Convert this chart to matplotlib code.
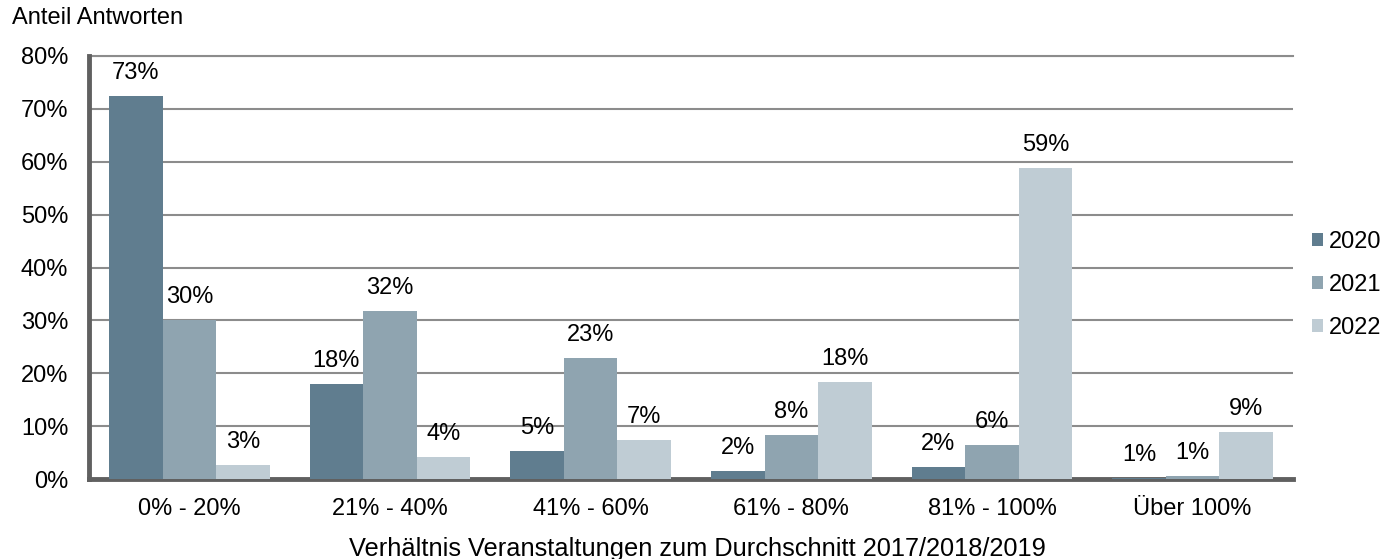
import matplotlib
matplotlib.use("Agg")
import matplotlib.pyplot as plt
import numpy as np

plt.rcParams['font.family'] = ['Liberation Sans', 'DejaVu Sans']

categories = ["0% - 20%", "21% - 40%", "41% - 60%", "61% - 80%", "81% - 100%", "Über 100%"]
years = ["2020", "2021", "2022"]
v2020 = [72.5, 18.0, 5.3, 1.6, 2.3, 0.1]
v2021 = [30.0, 31.7, 22.9, 8.3, 6.4, 0.6]
v2022 = [2.7, 4.2, 7.4, 18.4, 58.8, 8.9]
labels2020 = ["73%", "18%", "5%", "2%", "2%", "1%"]
labels2021 = ["30%", "32%", "23%", "8%", "6%", "1%"]
labels2022 = ["3%", "4%", "7%", "18%", "59%", "9%"]
yticks = [0, 10, 20, 30, 40, 50, 60, 70, 80]

colors = ["#607d8f", "#8fa4b0", "#bfccd4"]
series = [v2020, v2021, v2022]
labelsets = [labels2020, labels2021, labels2022]

FS = 17
fig = plt.figure(figsize=(13.85, 5.59), dpi=100)
ax = fig.add_axes([89/1385, 1 - 479/559, (1293-89)/1385, (479-56)/559])

x = np.arange(len(categories))
w = 0.267
for i, (vals, c, labs) in enumerate(zip(series, colors, labelsets)):
    pos = x + (i - 1) * w
    ax.bar(pos, vals, width=w, color=c, label=years[i], zorder=3)
    for p, v, t in zip(pos, vals, labs):
        ax.text(p, v + 4.35, t, ha="center", va="center", fontsize=FS, color="#000000", zorder=4)

ax.set_xlim(-0.5, len(categories) - 0.5)
ax.set_ylim(0, 80)
ax.set_yticks(yticks)
ax.set_yticklabels([f"{t}%" for t in yticks], fontsize=FS)
ax.set_xticks(x)
ax.set_xticklabels(categories, fontsize=FS)
ax.tick_params(axis="y", length=0, pad=15)
ax.tick_params(axis="x", length=0, pad=14)
ax.yaxis.grid(True, color="#8c8c8c", linewidth=1.5, zorder=0)
ax.set_axisbelow(True)
for s in ["top", "right"]:
    ax.spines[s].set_visible(False)
ax.axhline(80, color="#8c8c8c", linewidth=1.5, zorder=0, clip_on=False)
ax.spines["left"].set_color("#606060")
ax.spines["left"].set_linewidth(3.5)
ax.spines["bottom"].set_color("#606060")
ax.spines["bottom"].set_linewidth(3.5)

fig.text(12/1385, 1 - 18/559, "Anteil Antworten", fontsize=FS, ha="left", va="center")
fig.text(697/1385, 1 - 549/559, "Verhältnis Veranstaltungen zum Durchschnitt 2017/2018/2019",
         fontsize=18.3, ha="center", va="center")

leg = ax.legend(loc="center left", bbox_to_anchor=((1312-89)/1204, (479-285)/423), frameon=False,
                fontsize=FS, handlelength=0.47, handleheight=0.47, handletextpad=0.25,
                labelspacing=0.9, borderpad=0, borderaxespad=0)

fig.savefig("out.png", dpi=100)
